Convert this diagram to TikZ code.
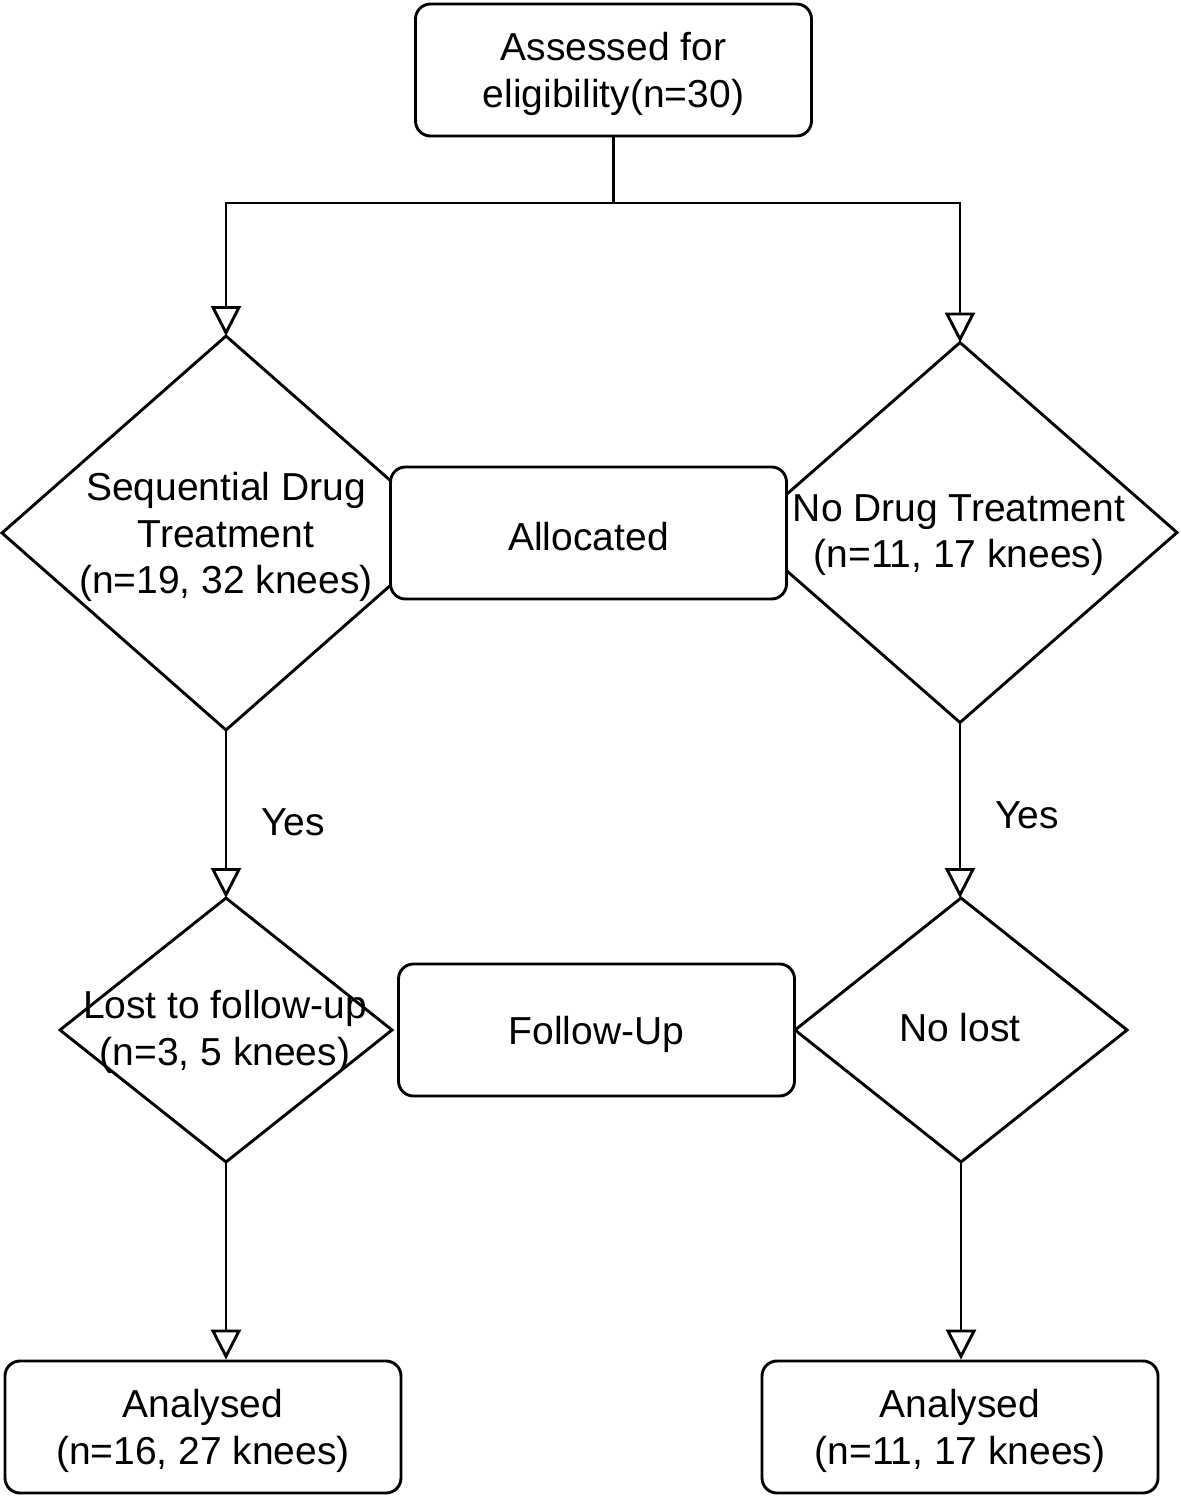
\documentclass[tikz,border=0pt]{standalone}
\usepackage{fontspec}
\setmainfont{Liberation Sans}
\usetikzlibrary{shapes.geometric,arrows.meta}
\newcommand\diagfont{\fontsize{19.5pt}{23.25pt}\selectfont}
\begin{document}
\begin{tikzpicture}[x=0.5pt,y=-0.5pt,
  box/.style={draw, rounded corners=7.5pt, fill=white, minimum width=198pt, minimum height=66pt,
    line width=1.45pt, inner sep=0pt},
  dia/.style={draw, diamond, line width=1.45pt, inner sep=0pt, outer sep=0pt, fill=white},
  txt/.style={align=center, font=\diagfont, inner sep=0pt},
  arr/.style={line width=1.45pt, -{Triangle[length=15pt, width=15pt, fill=white]}},
  ln/.style={line width=1.45pt}
]
\useasboundingbox (0,0) rectangle (1181,1498);
\fill[white] (0,0) rectangle (1181,1498);

% diamonds
\node[dia, minimum width=224pt, minimum height=197pt] (sdt) at (226,533) {};
\node[dia, minimum width=217pt, minimum height=190pt] (ndt) at (960,532.5) {};
\node[dia, minimum width=166pt, minimum height=132pt] (lost) at (226,1030) {};
\node[dia, minimum width=166pt, minimum height=132pt] (nolost) at (961,1030) {};

% diamond texts
\node[txt] (sdtT) at (226,537) {Sequential Drug\\Treatment\\(n=19, 32 knees)};
\node[txt] (ndtT) at (959,535) {No Drug Treatment\\(n=11, 17 knees)};
\node[txt] (lostT) at (225,1032) {Lost to follow-up\\(n=3, 5 knees)};
\node[txt] (nolostT) at (960,1028) {No lost};

% boxes
\node[box] (top) at (613.5,70) {};
\node[box] (alloc) at (588.5,533) {};
\node[box] (fu) at (596.5,1030) {};
\node[box] (an1) at (203,1427) {};
\node[box] (an2) at (960,1427) {};

% box texts
\node[txt] (topT) at (613.5,74) {Assessed for\\eligibility(n=30)};
\node[txt] (allocT) at (588.5,537) {Allocated};
\node[txt] (fuT) at (596.5,1034) {Follow-Up};
\node[txt] (an1T) at (203,1431) {Analysed\\(n=16, 27 knees)};
\node[txt] (an2T) at (960,1431) {Analysed\\(n=11, 17 knees)};

% yes labels
\node[txt] (yes1) at (293,822) {Yes};
\node[txt] (yes2) at (1027,815) {Yes};

% connectors
\coordinate (split) at (613.5,203);
\draw[ln] (top.south) -- (split);
\draw[arr] (split) -| (sdt.north);
\draw[arr] (split) -| (ndt.north);
\draw[arr] (sdt.south) -- (lost.north);
\draw[arr] (ndt.south) -- (ndt.south |- nolost.north);
\draw[arr] (lost.south) -- (lost.south |- an1.north);
\draw[arr] (nolost.south) -- (nolost.south |- an2.north);
\end{tikzpicture}
\end{document}
